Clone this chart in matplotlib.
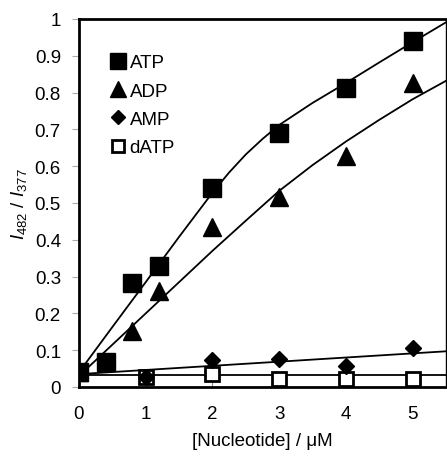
import matplotlib
matplotlib.use("Agg")
import matplotlib.pyplot as plt

plt.rcParams['font.family'] = ['Liberation Sans', 'DejaVu Sans']
plt.rcParams['mathtext.fontset'] = 'custom'
plt.rcParams['mathtext.rm'] = 'Liberation Sans'
plt.rcParams['mathtext.it'] = 'Liberation Sans:italic'

# measured points
atp_x = [0, 0.4, 0.8, 1.2, 2, 3, 4, 5]
atp_y = [0.04, 0.069, 0.283, 0.328, 0.542, 0.69, 0.812, 0.94]
adp_x = [0, 0.8, 1.2, 2, 3, 4, 5]
adp_y = [0.04, 0.153, 0.262, 0.436, 0.516, 0.628, 0.825]
amp_x = [0, 1, 2, 3, 4, 5]
amp_y = [0.04, 0.028, 0.073, 0.075, 0.057, 0.105]
datp_x = [0, 1, 2, 3, 4, 5]
datp_y = [0.04, 0.028, 0.035, 0.022, 0.022, 0.022]

# fitted curves
atp_fit_x = [0, 0.5, 1, 1.5, 2, 2.25, 2.5, 2.75, 3, 3.5, 4, 4.5, 5, 5.5]
atp_fit = [0.04, 0.163, 0.285, 0.408, 0.528, 0.583, 0.632, 0.674, 0.712, 0.772, 0.826, 0.882, 0.937, 0.991]
adp_fit_x = [0, 0.5, 1, 1.5, 2, 2.5, 3, 3.5, 4, 4.5, 5, 5.5]
adp_fit = [0.03, 0.115, 0.20, 0.285, 0.37, 0.452, 0.533, 0.603, 0.667, 0.726, 0.782, 0.832]
line_x = [0, 5.5]
amp_fit = [0.035, 0.097]
datp_fit = [0.033, 0.033]

fig = plt.figure(figsize=(4.47, 4.60), dpi=100)
ax = fig.add_axes([79/447, 72/460, 367/447, 368/460])

lw = 1.3
ax.plot(atp_fit_x, atp_fit, color='black', lw=lw)
ax.plot(adp_fit_x, adp_fit, color='black', lw=lw)
ax.plot(line_x, amp_fit, color='black', lw=lw)
ax.plot(line_x, datp_fit, color='black', lw=lw)

ax.plot(datp_x, datp_y, 's', ms=10.5, mfc='white', mec='black', mew=2, label='dATP', zorder=3)
ax.plot(amp_x, amp_y, 'D', ms=8.5, color='black', label='AMP', zorder=4)
ax.plot(adp_x, adp_y, '^', ms=13, color='black', label='ADP', zorder=5)
ax.plot(atp_x, atp_y, 's', ms=13, color='black', label='ATP', zorder=6)

fs = 13.5
ax.set_xlim(0, 5.5)
ax.set_ylim(0, 1)
ax.set_xticks([0, 1, 2, 3, 4, 5])
ax.set_yticks([0, 0.1, 0.2, 0.3, 0.4, 0.5, 0.6, 0.7, 0.8, 0.9, 1])
ax.set_yticklabels(['0', '0.1', '0.2', '0.3', '0.4', '0.5', '0.6', '0.7', '0.8', '0.9', '1'])
ax.tick_params(axis='x', direction='in', length=5, width=0.8, color='#888888', labelsize=fs, pad=13)
ax.tick_params(axis='y', direction='out', length=5, width=0.8, color='#aaaaaa', labelsize=fs, pad=8)

for s in ['top', 'left', 'bottom']:
    ax.spines[s].set_linewidth(2)
ax.spines['right'].set_linewidth(1)

ax.set_xlabel('[Nucleotide] / \u03bcM', fontsize=fs, labelpad=7)
ax.set_ylabel(r'$I_{482}$ / $I_{377}$', fontsize=fs, labelpad=4)

handles, labels = ax.get_legend_handles_labels()
order = [3, 2, 1, 0]
ax.legend([handles[i] for i in order], [labels[i] for i in order],
          loc='upper left', bbox_to_anchor=(0.066, 0.925), frameon=False,
          fontsize=fs, handlelength=0.8, handletextpad=0.2,
          labelspacing=0.6, markerscale=0.85, numpoints=1, borderaxespad=0)

fig.savefig('out.png', dpi=100)
